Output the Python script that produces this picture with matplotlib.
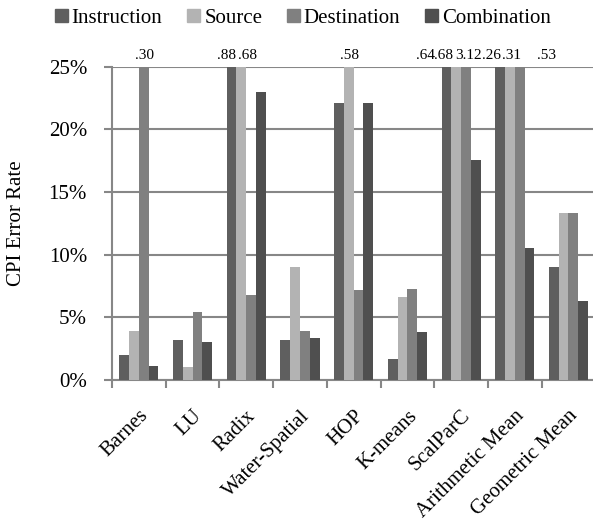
import numpy as np
import matplotlib
matplotlib.use("Agg")
import matplotlib.pyplot as plt
from matplotlib.patches import Patch
from matplotlib.ticker import FixedLocator, FuncFormatter

plt.rcParams['font.family'] = ['Liberation Serif', 'DejaVu Serif']

# ===== Data (percent, bars above 25% are cut off at the top) =====
benchmarks = ['Barnes', 'LU', 'Radix', 'Water-Spatial', 'HOP', 'K-means',
              'ScalParC', 'Arithmetic Mean', 'Geometric Mean']
series = ['Instruction', 'Source', 'Destination', 'Combination']
instruction = [2.0, 3.2, 30, 3.2, 22.1, 1.7, 30, 30, 9.0]
source = [3.9, 1.05, 30, 9.0, 30, 6.6, 30, 30, 13.3]
destination = [30, 5.4, 6.8, 3.9, 7.2, 7.3, 30, 30, 13.3]
combination = [1.1, 3.0, 23.0, 3.35, 22.1, 3.8, 17.55, 10.5, 6.3]
colors = ['#5f5f5f', '#b3b3b3', '#808080', '#4f4f4f']

# labels of the clipped bars, as they show above the plot
over_labels = ['.30', '.88', '.68', '.58', '.64', '.68', '3.12', '.26', '.31', '.53']
over_x = [0.10, 1.63, 2.02, 3.92, 5.33, 5.68, 6.14, 6.57, 6.93, 7.60]

# ===== Plot =====
fig = plt.figure(figsize=(5.93, 5.22), dpi=100)
ax = fig.add_axes([0.1889, 0.272, 0.815, 0.600])

grid_c = '#878787'
x = np.arange(len(benchmarks))
w = 0.182
for j, vals in enumerate([instruction, source, destination, combination]):
    ax.bar(x + (j - 1.5) * w, vals, width=w, color=colors[j], label=series[j],
           zorder=3)

ax.set_ylim(0, 25)
ax.set_xlim(-0.5, len(benchmarks) - 0.5)
ax.set_yticks(np.arange(0, 26, 5))
ax.yaxis.set_major_formatter(FuncFormatter(lambda v, p: '%d%%' % v))
ax.yaxis.grid(True, color=grid_c, linewidth=1.5, zorder=0)
ax.tick_params(axis='y', labelsize=15, length=6, width=1.5, color=grid_c, pad=12)

ax.set_xticks(x)
ax.set_xticklabels(benchmarks, rotation=45, ha='right', rotation_mode='anchor',
                   fontsize=15)
ax.tick_params(axis='x', which='major', length=0, pad=19)
ax.xaxis.set_minor_locator(FixedLocator(np.arange(-0.5, len(benchmarks), 1)))
ax.tick_params(axis='x', which='minor', length=6, width=1.5, color=grid_c)

for s in ['top', 'right']:
    ax.spines[s].set_visible(False)
for s in ['left', 'bottom']:
    ax.spines[s].set_color(grid_c)
    ax.spines[s].set_linewidth(1.5)

ax.set_ylabel('CPI Error Rate', fontsize=15, labelpad=16)

for t, xp in zip(over_labels, over_x):
    ax.text(xp, 25.94, t, ha='center', va='center', fontsize=11, clip_on=False)

handles = [Patch(color=c, label=s) for c, s in zip(colors, series)]
fig.legend(handles=handles, loc='center', bbox_to_anchor=(0.511, 0.965), ncol=4,
           frameon=False, fontsize=15, handlelength=0.6, handleheight=0.6,
           handletextpad=0.2, columnspacing=1.2, borderaxespad=0)

plt.savefig('out.png')
